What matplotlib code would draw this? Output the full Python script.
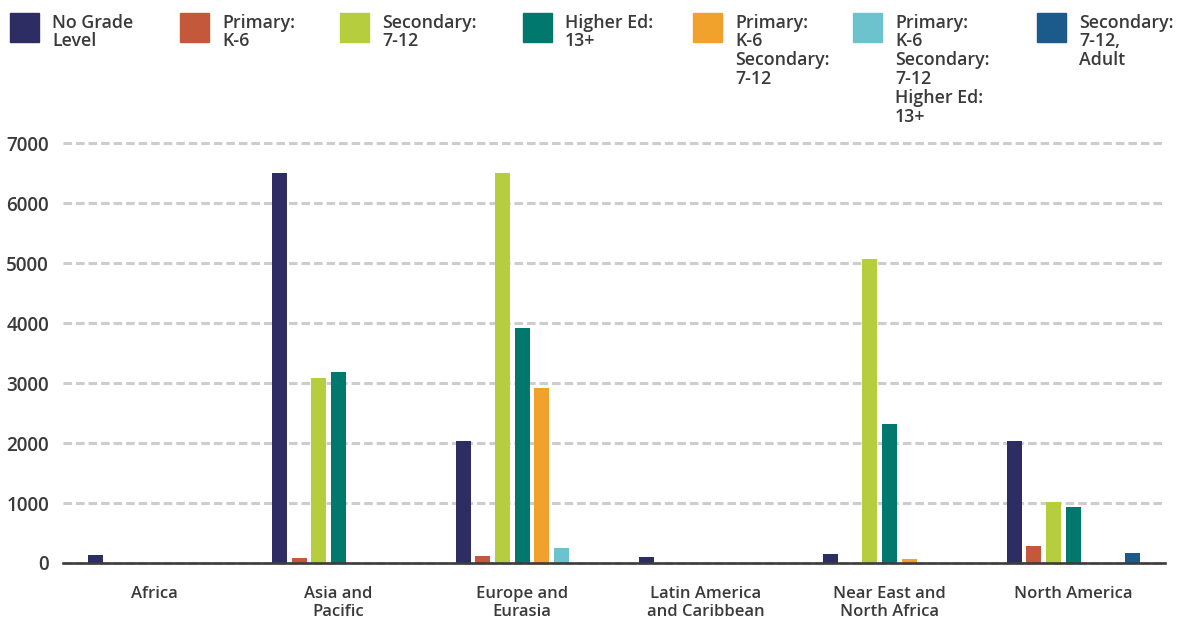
import matplotlib
matplotlib.use("Agg")
import matplotlib.pyplot as plt
from matplotlib.patches import Rectangle
import numpy as np

# Regions on the x axis
regions = ["Africa", "Asia and\nPacific", "Europe and\nEurasia",
           "Latin America\nand Caribbean", "Near East and\nNorth Africa",
           "North America"]

# Grade-level series
series_labels = [
    "No Grade\nLevel",
    "Primary:\nK-6",
    "Secondary:\n7-12",
    "Higher Ed:\n13+",
    "Primary:\nK-6\nSecondary:\n7-12",
    "Primary:\nK-6\nSecondary:\n7-12\nHigher Ed:\n13+",
    "Secondary:\n7-12,\nAdult",
]

no_grade_level = [130, 6500, 2030, 100, 150, 2030]
primary_k6 = [0, 90, 120, 0, 0, 280]
secondary_7_12 = [0, 3080, 6500, 0, 5070, 1010]
higher_ed_13 = [0, 3190, 3920, 0, 2320, 940]
primary_secondary = [0, 0, 2920, 0, 70, 0]
primary_secondary_higher = [0, 0, 255, 0, 0, 0]
secondary_adult = [0, 0, 0, 0, 0, 170]

series_values = [no_grade_level, primary_k6, secondary_7_12, higher_ed_13,
                 primary_secondary, primary_secondary_higher, secondary_adult]

colors = ["#2e2d63", "#c4583b", "#b6cd3d", "#00786d",
          "#f0a22c", "#6cc2cd", "#1b5b8b"]

y_ticks = [0, 1000, 2000, 3000, 4000, 5000, 6000, 7000]

FONT = ["Open Sans", "DejaVu Sans"]
TEXT_COLOR = "#3a3a3a"

W, H = 1177, 618
fig = plt.figure(figsize=(W / 100, H / 100), dpi=100)
fig.patch.set_facecolor("white")

ax = fig.add_axes([63 / W, 55 / H, (1165 - 63) / W, (563 - 143.5) / H])

n_series = len(series_values)
x = np.arange(len(regions))
group_frac = 0.75
slot = group_frac / n_series
bar_w = slot * 0.75

for i, (vals, col) in enumerate(zip(series_values, colors)):
    offs = (i - (n_series - 1) / 2) * slot
    ax.bar(x + offs, vals, width=bar_w, color=col, zorder=2, linewidth=0)

ax.set_xlim(-0.5, len(regions) - 0.5)
ax.set_ylim(0, 7000)
ax.set_yticks(y_ticks)
ax.set_yticklabels([str(t) for t in y_ticks], family=FONT, weight="semibold",
                   fontsize=13.6, color=TEXT_COLOR)
ax.set_xticks(x)
ax.set_xticklabels(regions, family=FONT, weight="semibold", fontsize=12,
                   color=TEXT_COLOR, linespacing=1.15)
ax.tick_params(axis="y", length=0, pad=10)
ax.tick_params(axis="x", length=0, pad=16.5)

ax.set_axisbelow(True)
ax.yaxis.grid(True, color="#cdcdcd", linewidth=2.2, linestyle=(0, (2.8, 1.3)))
for gl in ax.get_ygridlines():
    gl.set_clip_on(False)

for side in ["left", "right", "top"]:
    ax.spines[side].set_visible(False)
ax.spines["bottom"].set_color("#3d3d3d")
ax.spines["bottom"].set_linewidth(1.9)
ax.spines["bottom"].set_zorder(3)

# Legend row across the top
legend_left_px = [10, 180, 340, 523, 693, 853, 1037]
sq = 29
for lx, lab, col in zip(legend_left_px, series_labels, colors):
    fig.patches.append(Rectangle((lx / W, 1 - (13 + sq) / H), sq / W, sq / H,
                                 transform=fig.transFigure, color=col))
    fig.text((lx + 42) / W, 1 - 13.5 / H, lab, va="top", ha="left",
             family=FONT, weight="semibold", fontsize=12.8,
             color=TEXT_COLOR, linespacing=1.06)

fig.savefig("out.png", dpi=100, facecolor="white")
